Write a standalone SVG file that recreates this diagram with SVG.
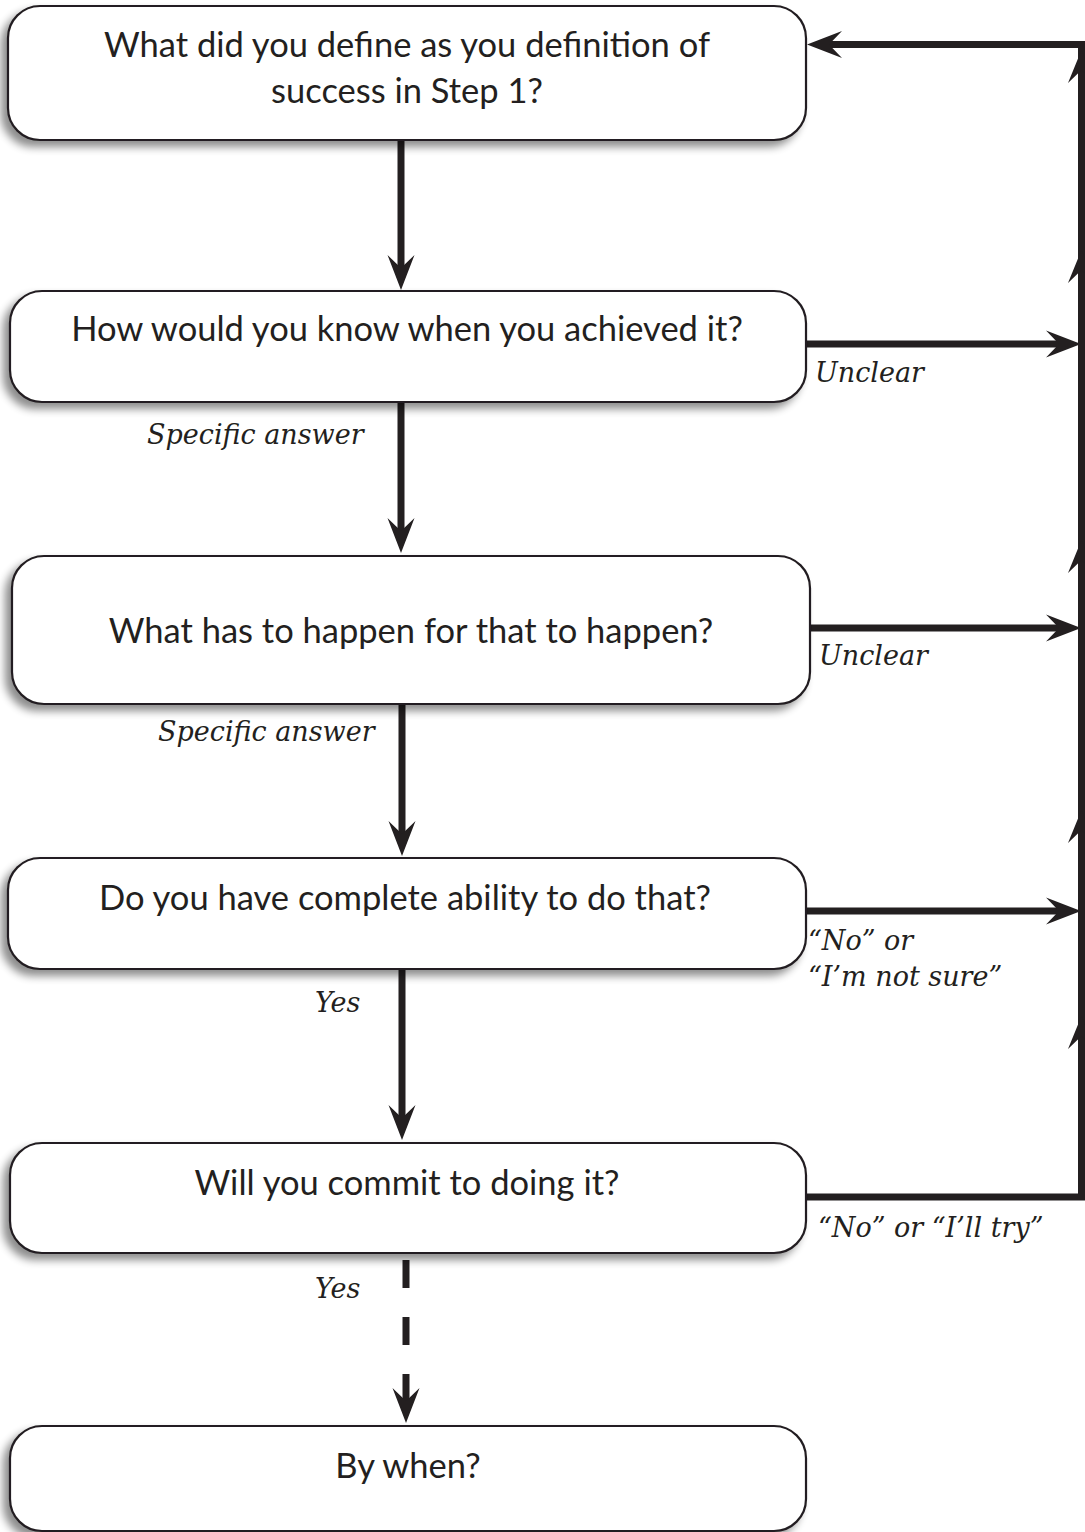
<svg xmlns="http://www.w3.org/2000/svg" width="1085" height="1532" viewBox="0 0 1085 1532">
<defs>
<filter id="sh" x="-10%" y="-20%" width="120%" height="150%">
<feGaussianBlur in="SourceAlpha" stdDeviation="4"/>
<feOffset dx="-6" dy="6" result="b"/>
<feComponentTransfer><feFuncA type="linear" slope="0.45"/></feComponentTransfer>
<feMerge><feMergeNode/><feMergeNode in="SourceGraphic"/></feMerge>
</filter>
<marker id="ah" markerUnits="userSpaceOnUse" viewBox="-14 -14 37 28" refX="0" refY="0" markerWidth="37" markerHeight="28" orient="auto" overflow="visible">
<path d="M22,0 L-13,-13.5 L0,0 L-13,13.5 Z" fill="#231f20"/>
</marker>
<path id="up" d="M0,0 L13.5,33 L0,20 L-13.5,33 Z" fill="#231f20"/>
</defs>
<style>
.box{fill:#fff;stroke:#231f20;stroke-width:2.2}
.t{font-family:Lato,"Open Sans",sans-serif;font-size:34.5px;fill:#231f20;text-anchor:middle}
.l{font-family:"DejaVu Serif",serif;font-style:italic;font-size:27px;fill:#231f20}
.c{fill:none;stroke:#231f20;stroke-width:7}
</style>
<g id="connectors">
<line class="c" x1="401" y1="140" x2="401" y2="268" marker-end="url(#ah)"/>
<line class="c" x1="401" y1="402" x2="401" y2="531" marker-end="url(#ah)"/>
<line class="c" x1="402" y1="704" x2="402" y2="834" marker-end="url(#ah)"/>
<line class="c" x1="402" y1="969" x2="402" y2="1118" marker-end="url(#ah)"/>
<line class="c" x1="406" y1="1260" x2="406" y2="1401" stroke-dasharray="28 29" marker-end="url(#ah)"/>
<line class="c" x1="806" y1="344" x2="1059" y2="344" marker-end="url(#ah)"/>
<line class="c" x1="810" y1="628" x2="1059" y2="628" marker-end="url(#ah)"/>
<line class="c" x1="806" y1="911" x2="1059" y2="911" marker-end="url(#ah)"/>
<polyline class="c" points="806,1197 1081.5,1197 1081.5,44.5 829,44.5" stroke-linejoin="miter" marker-end="url(#ah)"/>
<use href="#up" x="1081.5" y="50"/>
<use href="#up" x="1081.5" y="250"/>
<use href="#up" x="1081.5" y="540"/>
<use href="#up" x="1081.5" y="810"/>
<use href="#up" x="1081.5" y="1016"/>
<text class="l" x="815" y="382">Unclear</text>
<text class="l" x="147" y="444">Specific answer</text>
<text class="l" x="819" y="665">Unclear</text>
<text class="l" x="158" y="741">Specific answer</text>
<text class="l" x="808" y="950">“No” or</text>
<text class="l" x="808" y="986">“I’m not sure”</text>
<text class="l" x="315" y="1012">Yes</text>
<text class="l" x="818" y="1237">“No” or “I’ll try”</text>
<text class="l" x="315" y="1298">Yes</text>
</g>
<g id="n1"><rect class="box" filter="url(#sh)" x="8" y="6" width="798" height="134" rx="32"/>
<text class="t" x="407" y="57">What did you define as you definition of</text>
<text class="t" x="407" y="103">success in Step 1?</text></g>
<g id="n2"><rect class="box" filter="url(#sh)" x="10" y="291" width="796" height="111" rx="32"/>
<text class="t" x="407" y="341">How would you know when you achieved it?</text></g>
<g id="n3"><rect class="box" filter="url(#sh)" x="12" y="556" width="798" height="148" rx="32"/>
<text class="t" x="411" y="643">What has to happen for that to happen?</text></g>
<g id="n4"><rect class="box" filter="url(#sh)" x="8" y="858" width="798" height="111" rx="32"/>
<text class="t" x="405" y="910">Do you have complete ability to do that?</text></g>
<g id="n5"><rect class="box" filter="url(#sh)" x="10" y="1143" width="796" height="110" rx="32"/>
<text class="t" x="407" y="1195">Will you commit to doing it?</text></g>
<g id="n6"><rect class="box" filter="url(#sh)" x="10" y="1426" width="796" height="105" rx="32"/>
<text class="t" x="408" y="1478">By when?</text></g>
</svg>
